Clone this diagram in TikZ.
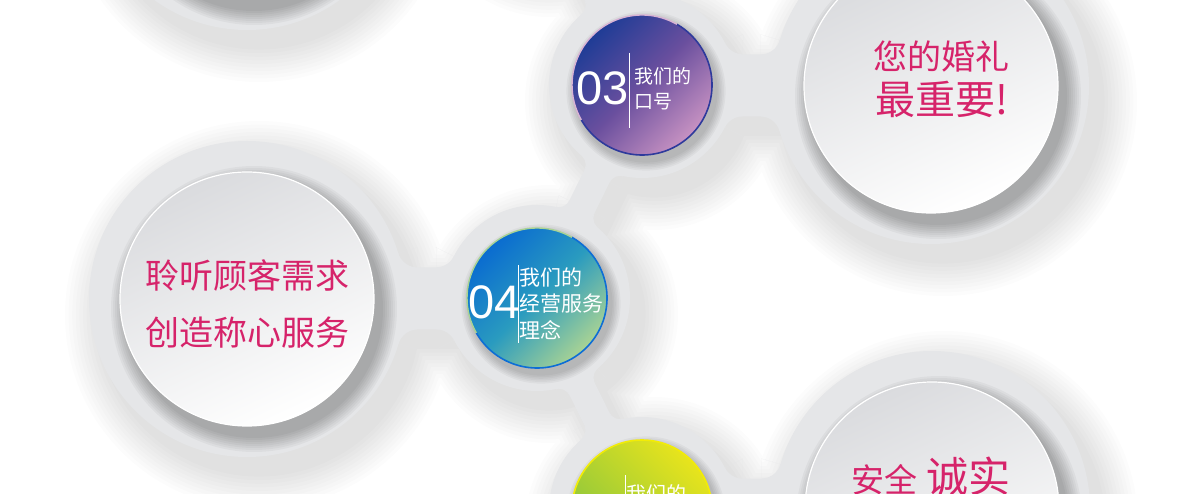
\documentclass[tikz,border=0pt]{standalone}
\usepackage{fontspec}
\setmainfont{Noto Sans CJK SC}
\newfontfamily\digitfont{Liberation Sans}
\usetikzlibrary{calc}
\definecolor{ringc}{HTML}{E5E6E8}
\definecolor{innertop}{HTML}{DADBDE}
\definecolor{pinktxt}{HTML}{D6236A}
\definecolor{cthreeA}{HTML}{1F3C96}
\definecolor{cthreeM}{HTML}{6A4F9E}
\definecolor{cthreeB}{HTML}{C792C2}
\definecolor{cthreeR}{HTML}{2E3A9C}
\definecolor{cfourA}{HTML}{0A6CD0}
\definecolor{cfourM}{HTML}{2A9BBF}
\definecolor{cfourB}{HTML}{A9D394}
\definecolor{cfourR}{HTML}{0D6ED6}
\definecolor{cfiveA}{HTML}{E8E41C}
\definecolor{cfiveB}{HTML}{80C242}
\definecolor{cfiveR}{HTML}{F2EC06}

\newcommand\filletpair[5]{%
  \pgfmathsetmacro\flA{10*sqrt(((#2)-(#4))/10*((#2)+(#4)+2*(#5))/10)}%
  \foreach \sg in {1,-1}{%
    \pgfmathsetmacro\flB{\sg*(#4)}%
    \pgfmathsetmacro\flC{\sg*((#4)+(#5))}%
    \path let \p1=($(#3)-(#1)$), \n1={atan2(\y1,\x1)} in
      ($(#1)+(\n1:\flA)+(\n1+90:\flB)$) coordinate (fT)
      ($(#1)+(\n1:\flA)+(\n1+90:\flC)$) coordinate (fF);
    \begin{scope}
      \clip (#1) -- (fT) -- (fF) -- cycle;
      \fill[ringc, even odd rule] (#1) -- (fT) -- (fF) -- cycle (fF) circle (#5);
    \end{scope}
  }%
}

\tikzset{
  innerdisk/.style={top color=innertop, bottom color=white, shading angle=25, draw=white, line width=1.2},
  bigtext/.style={anchor=base, inner sep=0, text=pinktxt},
  smalltext/.style={anchor=base west, inner sep=0, text=white, text height=0.78em, text depth=0.08em},
  digits/.style={anchor=base west, inner sep=0, text=white, font=\digitfont\fontsize{47}{47}\selectfont},
  sepline/.style={white, line width=1},
}

\begin{document}
\begin{tikzpicture}[x=1pt,y=1pt]
\useasboundingbox (0,0) rectangle (1180,-494);
\clip (0,0) rectangle (1180,-494);
\fill[white] (0,0) rectangle (1180,-494);

\coordinate (TL) at (247,128);
\coordinate (L)  at (247,-299);
\coordinate (TR) at (931,-86);
\coordinate (BR) at (932,-509);
\coordinate (S2) at (537,128);
\coordinate (S3) at (642,-85);
\coordinate (S4) at (537,-298);
\coordinate (S5) at (642,-510);

% soft shadow of the whole ring shape
\begin{scope}[transform canvas={shift={(12pt,-16pt)}}]
\foreach \k in {1,...,10}{
  \pgfmathsetmacro\shE{3.6*\k}
  \pgfmathsetmacro\shRb{158+\shE}
  \pgfmathsetmacro\shRs{93+\shE}
  \pgfmathsetmacro\shWb{62+2*\shE}
  \pgfmathsetmacro\shWd{28+2*\shE}
  \begin{scope}[transparency group, opacity=0.012]
    \fill[black] (TL) circle (\shRb) (L) circle (\shRb) (TR) circle (\shRb) (BR) circle (\shRb)
      (S2) circle (\shRs) (S3) circle (\shRs) (S4) circle (\shRs) (S5) circle (\shRs);
    \draw[black, line width=\shWb pt] (TL)--(S2) (L)--(S4) (S3)--(TR) (S5)--(BR);
    \draw[black, line width=\shWd pt] (S2)--(S3) (S3)--(S4) (S4)--(S5);
  \end{scope}
}
\end{scope}

% ring shape
\fill[ringc] (TL) circle (158) (L) circle (158) (TR) circle (158) (BR) circle (158)
  (S2) circle (93) (S3) circle (93) (S4) circle (93) (S5) circle (93);
\draw[ringc, line width=62] (TL)--(S2) (L)--(S4) (S3)--(TR) (S5)--(BR);
\draw[ringc, line width=28] (S2)--(S3) (S3)--(S4) (S4)--(S5);

\filletpair{TL}{158}{S2}{31}{20}
\filletpair{S2}{93}{TL}{31}{20}
\filletpair{L}{158}{S4}{31}{20}
\filletpair{S4}{93}{L}{31}{20}
\filletpair{S3}{93}{TR}{31}{20}
\filletpair{TR}{158}{S3}{31}{20}
\filletpair{S5}{93}{BR}{31}{20}
\filletpair{BR}{158}{S5}{31}{20}
\filletpair{S2}{93}{S3}{14}{12}
\filletpair{S3}{93}{S2}{14}{12}
\filletpair{S3}{93}{S4}{14}{12}
\filletpair{S4}{93}{S3}{14}{12}
\filletpair{S4}{93}{S5}{14}{12}
\filletpair{S5}{93}{S4}{14}{12}

% shadows of inner disks on the rings
\foreach \k in {1,...,8}{
  \pgfmathsetmacro\shR{127+2*\k}
  \fill[black, opacity=0.035] ($(TL)+(7,-10)$) circle (\shR) ($(L)+(7,-10)$) circle (\shR);
  \fill[black, opacity=0.035] ($(TR)+(7,-10)$) circle (\shR) ($(BR)+(7,-10)$) circle (\shR);
}
% shadows of coloured disks
\foreach \k in {1,...,6}{
  \pgfmathsetmacro\shR{70+1.6*\k}
  \fill[black, opacity=0.035] ($(S3)+(4,-6)$) circle (\shR) ($(S4)+(4,-6)$) circle (\shR);
  \fill[black, opacity=0.035] ($(S5)+(4,-6)$) circle (\shR) ($(S2)+(4,-6)$) circle (\shR);
}

% inner white disks
\path[innerdisk] (TL) circle (127);
\path[innerdisk] (L) circle (127);
\path[innerdisk] (TR) circle (127);
\path[innerdisk] (BR) circle (127);

% coloured disks
\path[top color=cthreeA, bottom color=cthreeB, middle color=cthreeM, shading angle=45] (S3) circle (70);
\draw[cthreeB!70!white, line width=1.4] (S3) ++(60:70) arc (60:210:70);
\draw[cthreeR, line width=1.6] (S3) ++(-150:70) arc (-150:60:70);

\path[top color=cfourA, bottom color=cfourB, middle color=cfourM, shading angle=45] (S4) circle (70);
\draw[cfourB, line width=1.4] (S4) ++(60:70) arc (60:210:70);
\draw[cfourR, line width=1.6] (S4) ++(-150:70) arc (-150:60:70);

\path[top color=cfiveA, bottom color=cfiveB, shading angle=-45] (S5) circle (70);
\draw[cfiveR, line width=1.6] (S5) circle (70);

% 03
\node[digits] (n3) at (576,-105) {03};
\draw[sepline] (629,-53) -- (629,-128);
\node[smalltext, font=\fontsize{19}{19}\selectfont] (t3a) at (634,-83.7) {我们的};
\node[smalltext, font=\fontsize{19}{19}\selectfont] (t3b) at (634,-108.7) {口号};

% 04
\node[digits] (n4) at (468,-318) {04};
\draw[sepline] (518,-265) -- (518,-343);
\node[smalltext, font=\fontsize{21}{21}\selectfont] (t4a) at (519.5,-285.5) {我们的};
\node[smalltext, font=\fontsize{21}{21}\selectfont] (t4b) at (519.5,-311.5) {经营服务};
\node[smalltext, font=\fontsize{21}{21}\selectfont] (t4c) at (519.5,-338.5) {理念};

% 05 (cut)
\draw[sepline] (625,-475) -- (625,-560);
\node[smalltext, font=\fontsize{20}{20}\selectfont] (t5a) at (626,-501.4) {我们的};

% big texts
\node[bigtext, font=\fontsize{34}{34}\selectfont] (r1) at (941,-70) {您的婚礼};
\node[bigtext, font=\fontsize{40}{40}\selectfont] (r2) at (941.5,-115) {最重要!};
\node[bigtext, font=\fontsize{34}{34}\selectfont] (l1) at (247.5,-288) {聆听顾客需求};
\node[bigtext, font=\fontsize{34}{34}\selectfont] (l2) at (247.5,-345.6) {创造称心服务};
\node[bigtext, anchor=base west, font=\fontsize{33}{33}\selectfont] (b1) at (851,-492) {安全};
\node[bigtext, anchor=base west, font=\fontsize{42}{42}\selectfont] (b2) at (926,-492) {诚实};
\end{tikzpicture}
\end{document}
